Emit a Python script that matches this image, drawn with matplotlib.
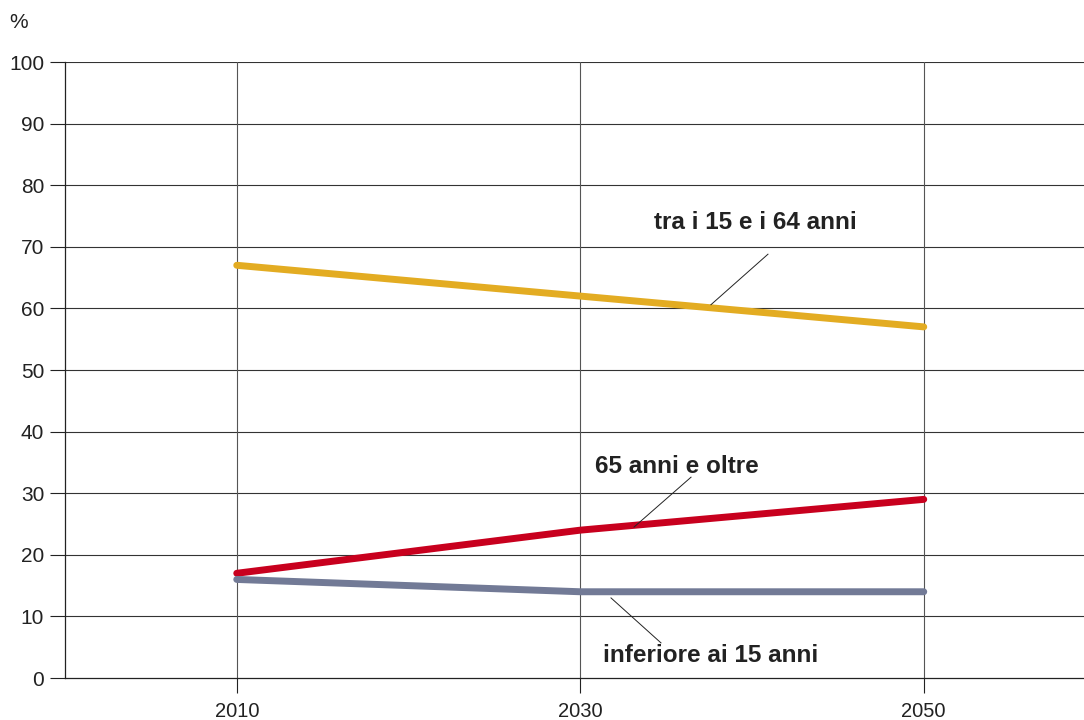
import matplotlib
matplotlib.use("Agg")
import matplotlib.pyplot as plt

plt.rcParams['font.family'] = ['Liberation Sans', 'DejaVu Sans']

years = [2010, 2030, 2050]
age_15_64 = [67, 62, 57]
age_65_plus = [17, 24, 29]
age_under_15 = [16, 14, 14]
y_ticks = [0, 10, 20, 30, 40, 50, 60, 70, 80, 90, 100]
x_ticks = [2010, 2030, 2050]

fig = plt.figure(figsize=(10.84, 7.2), dpi=100)
ax = fig.add_axes([65/1084, 1-678/720, 1-65/1084, (678-62)/720])
ax.set_xlim(2000, 2000 + (1084-65)/17.175)
ax.set_ylim(0, 100)

for y in y_ticks[1:]:
    ax.axhline(y, color='#333333', lw=0.8, zorder=1)
for x in x_ticks:
    ax.axvline(x, color='#555555', lw=0.8, zorder=1)

ax.plot(years, age_15_64, color='#E3AC22', lw=5.0, solid_capstyle='round', zorder=3)
ax.plot(years, age_65_plus, color='#C8001E', lw=5.0, solid_capstyle='round', zorder=3)
ax.plot(years, age_under_15, color='#727A96', lw=5.0, solid_capstyle='round', zorder=3)

ax.set_yticks(y_ticks)
ax.set_xticks(x_ticks)
ax.set_xticklabels([str(x) for x in x_ticks])
ax.tick_params(axis='y', direction='out', length=11, width=0.8, pad=4, labelsize=15, colors='#222222')
ax.tick_params(axis='x', direction='out', length=11, width=0.8, pad=6, labelsize=14.5, colors='#222222')
for t in ax.get_xticklines():
    t.set_color('#555555')

for s in ['top', 'right']:
    ax.spines[s].set_visible(False)
for s in ['left', 'bottom']:
    ax.spines[s].set_color('#222222')
    ax.spines[s].set_linewidth(0.9)

fig.text(19/1084, 1-23/720, '%', fontsize=15, color='#222222', ha='center', va='center')

lbl = dict(fontsize=17.5, fontweight='bold', color='#222222', ha='center', va='center')
ax.text(2040.17, 73.9, 'tra i 15 e i 64 anni', **lbl)
ax.text(2035.63, 34.4, '65 anni e oltre', **lbl)
ax.text(2037.6, 3.6, 'inferiore ai 15 anni', **lbl)

ax.plot([2040.93, 2037.61], [68.8, 60.6], color='#222222', lw=0.7, zorder=4)
ax.plot([2036.45, 2033.13], [32.6, 24.5], color='#222222', lw=0.7, zorder=4)
ax.plot([2031.79, 2034.70], [13.0, 5.7], color='#222222', lw=0.7, zorder=4)

fig.savefig('out.png', dpi=100)
